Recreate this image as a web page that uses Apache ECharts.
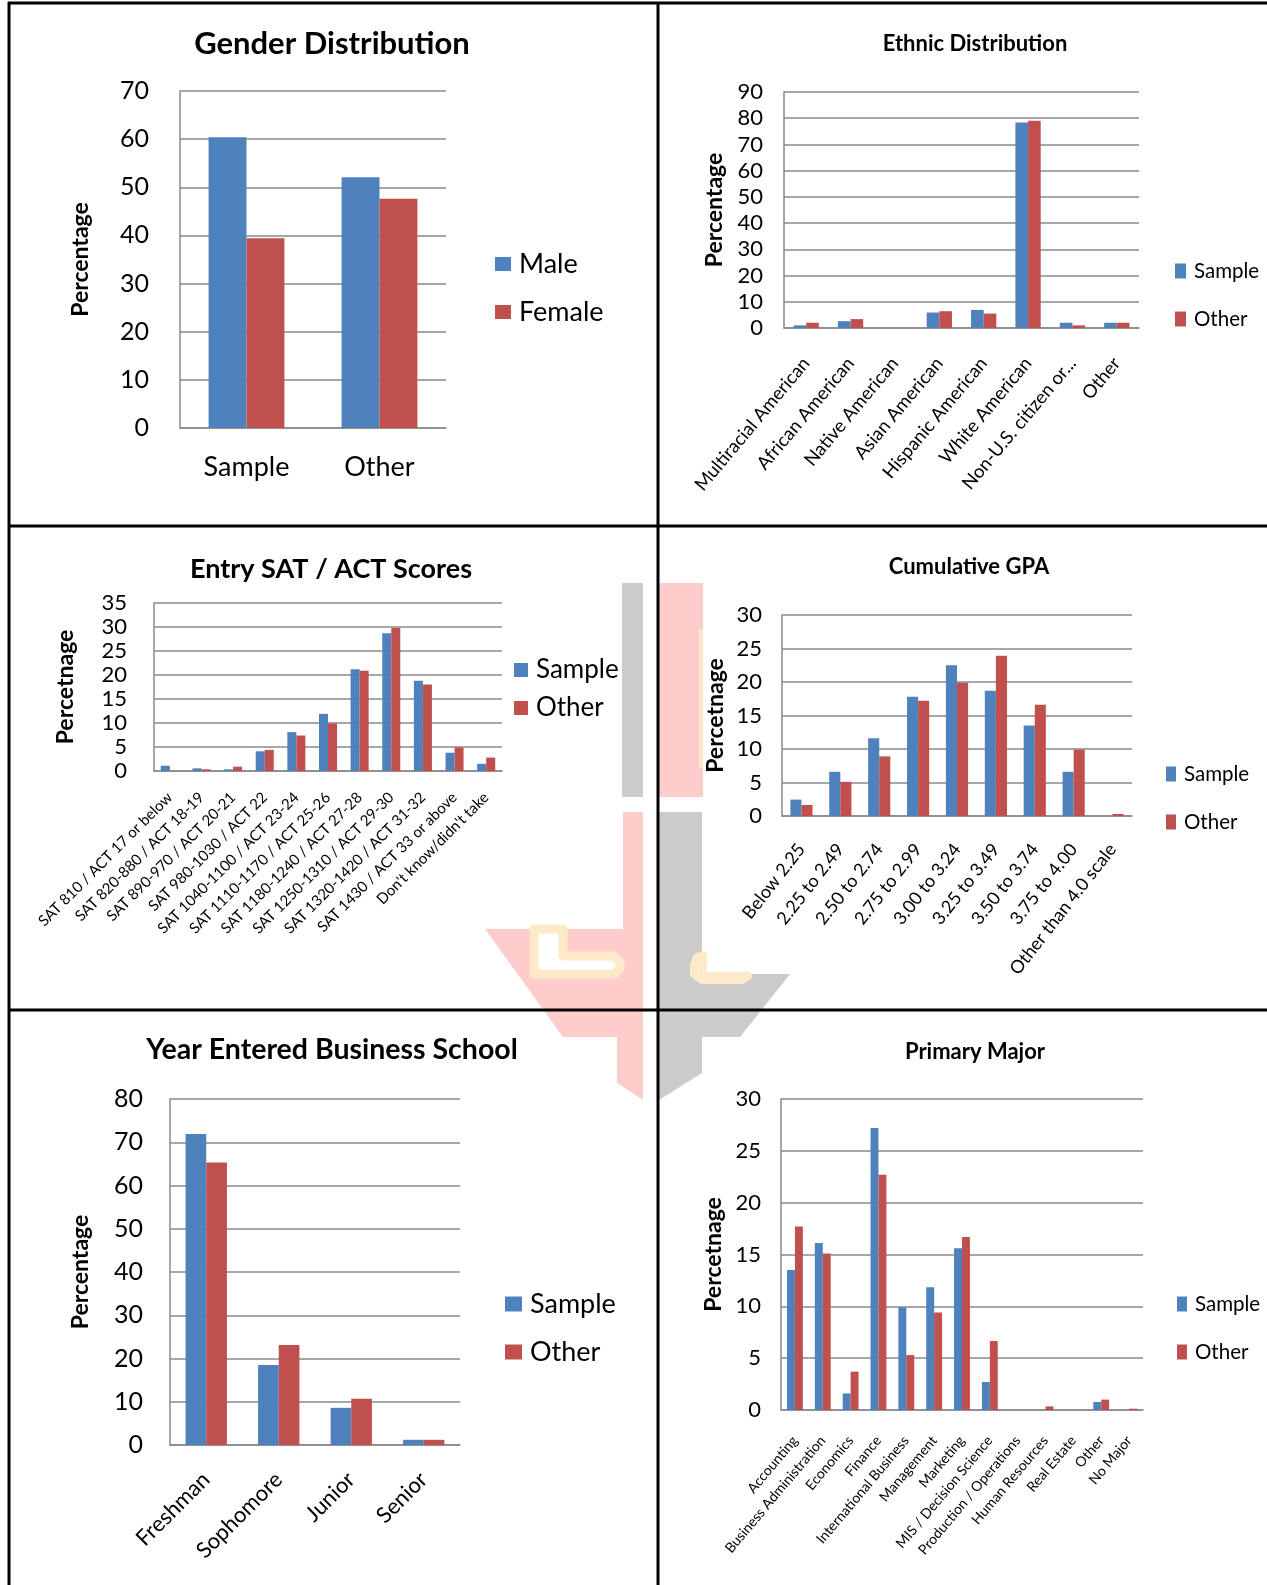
<!DOCTYPE html>
<html>
<head>
<meta charset="utf-8">
<script src="https://cdn.jsdelivr.net/npm/echarts/dist/echarts.min.js"></script>
<style>html,body{margin:0;padding:0;background:#fff}#c{width:1267px;height:1585px}</style>
</head>
<body>
<div id="c"></div>
<script>
// ---------- DATA ----------
const genderCategories = ['Sample', 'Other'];
const genderMale = [60.4, 52.1];
const genderFemale = [39.4, 47.6];

const ethnicCategories = ['Multiracial American', 'African American', 'Native American', 'Asian American', 'Hispanic American', 'White American', 'Non-U.S. citizen or...', 'Other'];
const ethnicSample = [1.0, 2.6, 0, 5.9, 6.9, 78.4, 2.0, 2.0];
const ethnicOther = [2.0, 3.4, 0, 6.4, 5.5, 79.0, 1.0, 2.0];

const satCategories = ['SAT 810 / ACT 17 or below', 'SAT 820-880 / ACT 18-19', 'SAT 890-970 / ACT 20-21', 'SAT 980-1030 / ACT 22', 'SAT 1040-1100 / ACT 23-24', 'SAT 1110-1170 / ACT 25-26', 'SAT 1180-1240 / ACT 27-28', 'SAT 1250-1310 / ACT 29-30', 'SAT 1320-1420 / ACT 31-32', 'SAT 1430 / ACT 33 or above', "Don't know/didn't take"];
const satSample = [1.1, 0.55, 0.35, 4.1, 8.1, 11.9, 21.2, 28.7, 18.8, 3.8, 1.5];
const satOther = [0, 0.35, 0.9, 4.4, 7.4, 9.9, 20.9, 29.8, 18.0, 4.9, 2.8];

const gpaCategories = ['Below 2.25', '2.25 to 2.49', '2.50 to 2.74', '2.75 to 2.99', '3.00 to 3.24', '3.25 to 3.49', '3.50 to 3.74', '3.75 to 4.00', 'Other than 4.0 scale'];
const gpaSample = [2.45, 6.6, 11.6, 17.8, 22.5, 18.7, 13.5, 6.6, 0];
const gpaOther = [1.65, 5.1, 8.9, 17.2, 19.9, 23.9, 16.6, 9.9, 0.3];

const yearCategories = ['Freshman', 'Sophomore', 'Junior', 'Senior'];
const yearSample = [71.9, 18.5, 8.6, 1.2];
const yearOther = [65.3, 23.1, 10.7, 1.2];

const majorCategories = ['Accounting', 'Business Administration', 'Economics', 'Finance', 'International Business', 'Management', 'Marketing', 'MIS / Decision Science', 'Production / Operations', 'Human Resources', 'Real Estate', 'Other', 'No Major'];
const majorSample = [13.5, 16.1, 1.6, 27.2, 9.9, 11.85, 15.6, 2.7, 0, 0, 0, 0.77, 0];
const majorOther = [17.7, 15.1, 3.7, 22.7, 5.3, 9.4, 16.7, 6.65, 0, 0.35, 0, 1.0, 0.13];

// ---------- STYLE ----------
const BLUE = '#4f81bd', RED = '#c0504d', GRID = '#8a8a8a';
const LATO = 'Lato, "Open Sans", sans-serif';

const panels = [
  { title: 'Gender Distribution', cx: 332, cy: 43, tSize: 31,
    grid: [180, 91, 266, 337], cats: genderCategories, n1: 'Male', d1: genderMale, n2: 'Female', d2: genderFemale,
    max: 70, interval: 10, ySize: 25, yMargin: 31, yName: 'Percentage', yGap: 88,
    xSize: 27, xRot: 0, xMargin: 26,
    lg: [495, 249, 16, 14, 27, 18] },
  { title: 'Ethnic Distribution', cx: 975, cy: 43, tSize: 22,
    grid: [784, 92, 355, 236], cats: ethnicCategories, n1: 'Sample', d1: ethnicSample, n2: 'Other', d2: ethnicOther,
    max: 90, interval: 10, ySize: 22, yMargin: 21, yName: 'Percentage', yGap: 58,
    xSize: 18.5, xRot: 50, xMargin: 32,
    lg: [1175, 256, 11, 15, 20.5, 18] },
  { title: 'Entry SAT / ACT Scores', cx: 331, cy: 568, tSize: 27,
    grid: [154, 603, 348, 168], cats: satCategories, n1: 'Sample', d1: satSample, n2: 'Other', d2: satOther,
    max: 35, interval: 5, ySize: 22, yMargin: 27, yName: 'Percetnage', yGap: 77,
    xSize: 15, xRot: 45, xMargin: 24,
    lg: [514, 655, 14, 14, 26, 8] },
  { title: 'Cumulative GPA', cx: 969, cy: 566, tSize: 22,
    grid: [782, 615, 350, 201], cats: gpaCategories, n1: 'Sample', d1: gpaSample, n2: 'Other', d2: gpaOther,
    max: 30, interval: 5, ySize: 22, yMargin: 20, yName: 'Percetnage', yGap: 55,
    xSize: 18, xRot: 52, xMargin: 30,
    lg: [1166, 759, 10, 15, 20.5, 18] },
  { title: 'Year Entered Business School', cx: 332, cy: 1049, tSize: 28.5,
    grid: [170, 1099, 290, 346], cats: yearCategories, n1: 'Sample', d1: yearSample, n2: 'Other', d2: yearOther,
    max: 80, interval: 10, ySize: 25, yMargin: 27, yName: 'Percentage', yGap: 78,
    xSize: 22, xRot: 45, xMargin: 31,
    lg: [505, 1289, 17, 15, 27, 18] },
  { title: 'Primary Major', cx: 975, cy: 1051, tSize: 22,
    grid: [781, 1099, 362, 311], cats: majorCategories, n1: 'Sample', d1: majorSample, n2: 'Other', d2: majorOther,
    max: 30, interval: 5, ySize: 22, yMargin: 20, yName: 'Percetnage', yGap: 56,
    xSize: 14, xRot: 50, xMargin: 28,
    lg: [1177, 1289, 10, 15, 20.5, 18] }
];

const option = { animation: false, backgroundColor: '#fff', title: [], grid: [], xAxis: [], yAxis: [], series: [], legend: [], graphic: [] };

panels.forEach((p, i) => {
  option.title.push({
    text: p.title, left: p.cx, top: p.cy - p.tSize * 0.47, textAlign: 'center', padding: 0,
    textStyle: { fontFamily: LATO, fontSize: p.tSize, fontWeight: 'bold', color: '#000' }
  });
  option.grid.push({ left: p.grid[0], top: p.grid[1], width: p.grid[2], height: p.grid[3], containLabel: false });
  option.xAxis.push({
    type: 'category', gridIndex: i, data: p.cats,
    axisLine: { lineStyle: { color: GRID, width: 1.5 } }, axisTick: { show: false },
    axisLabel: { interval: 0, rotate: p.xRot, margin: p.xMargin, fontFamily: LATO, fontSize: p.xSize, color: '#000' }
  });
  option.yAxis.push({
    type: 'value', gridIndex: i, min: 0, max: p.max, interval: p.interval,
    axisLine: { show: true, lineStyle: { color: GRID, width: 1.5 } }, axisTick: { show: false },
    splitLine: { lineStyle: { color: GRID, width: 1.5 } },
    axisLabel: { margin: p.yMargin, fontFamily: LATO, fontSize: p.ySize, color: '#000' },
    name: p.yName, nameLocation: 'middle', nameRotate: 90, nameGap: p.yGap,
    nameTextStyle: { fontFamily: LATO, fontSize: 23, fontWeight: 'bold', color: '#000' }
  });
  option.series.push({ type: 'bar', name: p.n1, xAxisIndex: i, yAxisIndex: i, data: p.d1, barGap: '0%', barCategoryGap: '43%', itemStyle: { color: BLUE } });
  option.series.push({ type: 'bar', name: p.n2, xAxisIndex: i, yAxisIndex: i, data: p.d2, barGap: '0%', barCategoryGap: '43%', itemStyle: { color: RED } });
  const lg = p.lg;
  option.legend.push({
    data: [p.n1, p.n2], orient: 'vertical', left: lg[0], top: lg[1], padding: 0,
    itemWidth: lg[2], itemHeight: lg[3], itemGap: lg[5], icon: 'rect', selectedMode: false,
    textStyle: { fontFamily: LATO, fontSize: lg[4], lineHeight: 30, color: '#000', padding: [0, 0, 0, 3] }
  });
});

// watermark (background logo) and frame lines
const PINK = '#ffcccc', GRAY = '#cbcbcb', CREAM = '#feeac8';
option.graphic = [
  { type: 'rect', z: -10, shape: { x: 622, y: 583, width: 21, height: 214 }, style: { fill: GRAY } },
  { type: 'rect', z: -10, shape: { x: 659, y: 583, width: 44, height: 214 }, style: { fill: PINK } },
  { type: 'line', z: -9, shape: { x1: 701, y1: 629, x2: 701, y2: 768 }, style: { stroke: CREAM, lineWidth: 4 } },
  { type: 'polygon', z: -10, shape: { points: [[623, 812], [643, 812], [643, 1100], [617, 1083], [617, 1037], [563, 1037], [485, 929], [623, 929]] }, style: { fill: PINK } },
  { type: 'polygon', z: -10, shape: { points: [[659, 812], [702, 812], [702, 974], [790, 974], [740, 1037], [702, 1037], [702, 1073], [659, 1100]] }, style: { fill: GRAY } },
  { type: 'polygon', z: -9, shape: { points: [[534, 929], [534, 974], [614, 974], [620, 968], [620, 962], [614, 956], [563, 956], [563, 929]] }, style: { fill: '#fff', stroke: CREAM, lineWidth: 9, lineJoin: 'round' } },
  { type: 'polygon', z: -9, shape: { points: [[703, 955], [697, 957], [694, 965], [694, 974], [702, 980], [742, 980], [748, 976], [703, 976]] }, style: { fill: '#fff', stroke: CREAM, lineWidth: 8, lineJoin: 'round' } },
  { type: 'line', z: 50, shape: { x1: 8, y1: 3, x2: 1267, y2: 3 }, style: { stroke: '#000', lineWidth: 3 } },
  { type: 'line', z: 50, shape: { x1: 9, y1: 2, x2: 9, y2: 1585 }, style: { stroke: '#000', lineWidth: 3 } },
  { type: 'line', z: 50, shape: { x1: 658, y1: 2, x2: 658, y2: 1585 }, style: { stroke: '#000', lineWidth: 3 } },
  { type: 'line', z: 50, shape: { x1: 8, y1: 526, x2: 1267, y2: 526 }, style: { stroke: '#000', lineWidth: 3 } },
  { type: 'line', z: 50, shape: { x1: 8, y1: 1010, x2: 1267, y2: 1010 }, style: { stroke: '#000', lineWidth: 3 } }
];

const chart = echarts.init(document.getElementById('c'), null, { renderer: 'canvas' });
chart.setOption(option);
</script>
</body>
</html>
